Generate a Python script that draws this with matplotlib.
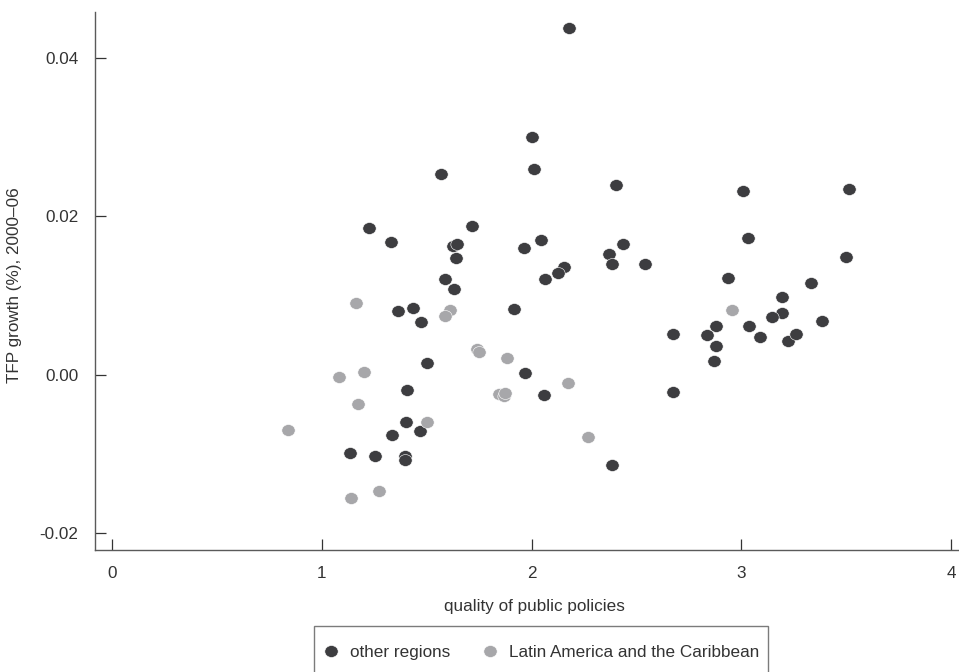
import matplotlib
matplotlib.use('Agg')
import matplotlib.pyplot as plt
from matplotlib.path import Path
from matplotlib.markers import MarkerStyle
import numpy as np

# DATA

other_x = [2.179, 2.002, 2.013, 1.569, 2.404, 1.226, 1.717, 1.332, 1.625, 1.644,
           1.640, 2.044, 1.963, 2.434, 2.368, 2.384, 2.156, 2.125, 2.064, 1.589,
           1.629, 1.363, 1.434, 1.475, 1.915, 3.008, 3.513, 3.033, 2.539, 3.497,
           2.938, 3.330, 3.192, 3.192, 3.147, 3.384, 2.880, 3.038, 1.501, 1.407,
           1.404, 1.334, 1.470, 1.135, 1.256, 1.397, 1.397, 1.969, 2.060, 2.384,
           2.673, 2.836, 3.089, 3.223, 3.259, 2.879, 2.868, 2.676]
other_y = [0.04379, 0.03009, 0.02601, 0.02541, 0.02398, 0.01858, 0.01880, 0.01678, 0.01631, 0.01656,
           0.01472, 0.01703, 0.01602, 0.01656, 0.01530, 0.01396, 0.01362, 0.01282, 0.01206, 0.01206,
           0.01087, 0.00802, 0.00843, 0.00666, 0.00827, 0.02322, 0.02348, 0.01728, 0.01396, 0.01484,
           0.01226, 0.01163, 0.00979, 0.00784, 0.00726, 0.00683, 0.00616, 0.00616, 0.00144, -0.00197,
           -0.00602, -0.00766, -0.00716, -0.00986, -0.01028, -0.01028, -0.01078, 0.00018, -0.00253, -0.01142,
           0.00515, 0.00506, 0.00480, 0.00430, 0.00515, 0.00367, 0.00173, -0.00215]

latam_x = [0.840, 1.081, 1.202, 1.175, 1.501, 1.141, 1.272, 1.739, 1.750, 1.883,
           1.844, 1.869, 1.872, 2.172, 2.269, 1.165, 1.612, 1.588, 2.954]
latam_y = [-0.00703, -0.00025, 0.00030, -0.00374, -0.00602, -0.01563, -0.01474, 0.00321, 0.00291, 0.00215,
           -0.00244, -0.00269, -0.00225, -0.00109, -0.00784, 0.00903, 0.00818, 0.00746, 0.00814]

x_ticks = [0, 1, 2, 3, 4]
x_tick_labels = ['0', '1', '2', '3', '4']
y_ticks = [-0.02, 0.0, 0.02, 0.04]
y_tick_labels = ['-0.02', '0.00', '0.02', '0.04']

series_names = ['other regions', 'Latin America and the Caribbean']
dark = '#3d3d40'
light = '#a7a7aa'
text_color = '#333333'
fs = 12.3

plt.rcParams['font.family'] = ['Liberation Sans', 'DejaVu Sans']

# slightly wide dots like in the original
circ = Path.unit_circle()
ellipse = Path(circ.vertices * np.array([1.12, 1.0]), circ.codes)
dot = MarkerStyle(ellipse)

fig = plt.figure(figsize=(9.59, 6.72), dpi=100)
ax = fig.add_axes([0.0991, 0.182, 0.9009, 0.8006])

ax.scatter(other_x, other_y, s=92, marker=dot, color=dark,
           edgecolors='white', linewidths=0.4, label=series_names[0], zorder=3)
ax.scatter(latam_x, latam_y, s=92, marker=dot, color=light,
           edgecolors='white', linewidths=0.4, label=series_names[1], zorder=3)

ax.set_xlim(-0.080, 4.037)
ax.set_ylim(-0.02212, 0.04589)

ax.set_xticks(x_ticks)
ax.set_xticklabels(x_tick_labels)
ax.set_yticks(y_ticks)
ax.set_yticklabels(y_tick_labels)

for side in ['top', 'right']:
    ax.spines[side].set_visible(False)
for side in ['left', 'bottom']:
    ax.spines[side].set_color('#5a5a5a')
    ax.spines[side].set_linewidth(1.0)

ax.tick_params(direction='in', length=8, width=0.9, color='#333333',
               labelsize=fs, labelcolor=text_color, pad=12)

fig.text(534.5 / 959, 1 - 606.7 / 672, 'quality of public policies', ha='center', va='center',
         fontsize=fs, color=text_color)
fig.text(15 / 959, 1 - 285 / 672, 'TFP growth (%), 2000\u201306', ha='center', va='center',
         rotation=90, fontsize=fs, color=text_color)

leg = fig.legend(loc='upper left', bbox_to_anchor=(314 / 959, 1 - 625.7 / 672), ncol=2,
                 fontsize=fs, frameon=True, fancybox=False, borderpad=0.5, borderaxespad=0,
                 handleheight=2.85, handlelength=0.96, handletextpad=0.65,
                 columnspacing=1.84, scatterpoints=1, scatteryoffsets=[0.18])
leg.get_frame().set_edgecolor('#5a5a5a')
leg.get_frame().set_linewidth(1.0)
for t in leg.get_texts():
    t.set_color(text_color)

fig.savefig('out.png', dpi=100)
